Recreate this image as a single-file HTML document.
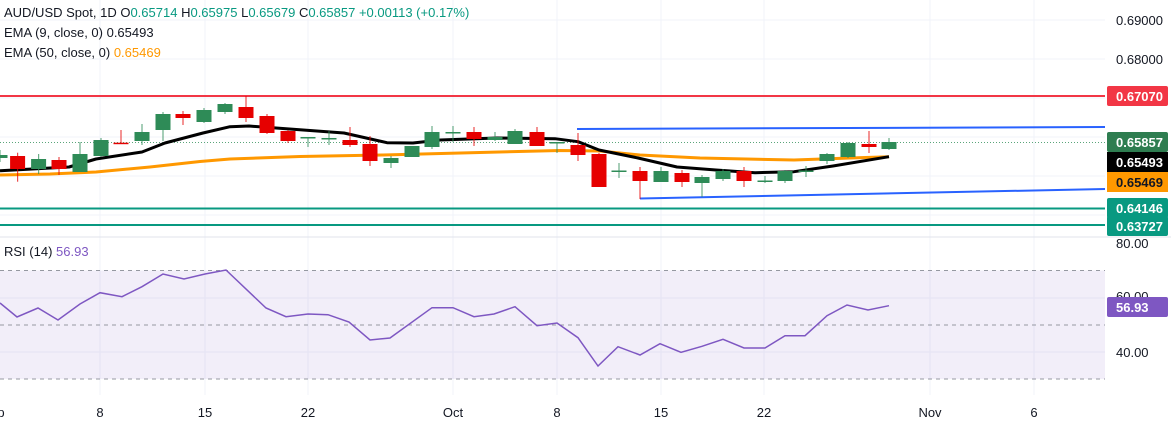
<!DOCTYPE html>
<html><head><meta charset="utf-8"><style>
body{margin:0;background:#fff;width:1171px;height:425px;overflow:hidden;font-family:"Liberation Sans",sans-serif}
svg{position:absolute;left:0;top:0}
</style></head><body>
<svg width="1171" height="425" xmlns="http://www.w3.org/2000/svg" font-family="Liberation Sans, sans-serif">
<g stroke="#f0f3fa" stroke-width="1">
<line x1="0" y1="20" x2="1105" y2="20"/><line x1="0" y1="59" x2="1105" y2="59"/><line x1="0" y1="98" x2="1105" y2="98"/>
<line x1="0" y1="137" x2="1105" y2="137"/><line x1="0" y1="176" x2="1105" y2="176"/><line x1="0" y1="215" x2="1105" y2="215"/>
<line x1="0" y1="298" x2="1105" y2="298"/><line x1="0" y1="352" x2="1105" y2="352"/>
<line x1="100" y1="0" x2="100" y2="395"/><line x1="205" y1="0" x2="205" y2="395"/><line x1="308" y1="0" x2="308" y2="395"/>
<line x1="453" y1="0" x2="453" y2="395"/><line x1="557" y1="0" x2="557" y2="395"/><line x1="661" y1="0" x2="661" y2="395"/>
<line x1="764" y1="0" x2="764" y2="395"/><line x1="930" y1="0" x2="930" y2="395"/><line x1="1034" y1="0" x2="1034" y2="395"/>
</g>
<line x1="0" y1="237" x2="1171" y2="237" stroke="#e0e3eb"/>
<line x1="0" y1="96" x2="1105" y2="96" stroke="#f23645" stroke-width="2"/>
<line x1="0" y1="208.5" x2="1105" y2="208.5" stroke="#089981" stroke-width="2"/>
<line x1="0" y1="225" x2="1105" y2="225" stroke="#089981" stroke-width="2"/>
<line x1="0" y1="142.5" x2="1105" y2="142.5" stroke="#5aa57a" stroke-dasharray="1 2"/>
<line x1="577" y1="129" x2="1105" y2="127" stroke="#2962ff" stroke-width="2"/>
<line x1="640" y1="198.5" x2="1105" y2="189" stroke="#2962ff" stroke-width="2"/>
<polyline fill="none" stroke="#ff9800" stroke-width="3" stroke-linejoin="round" points="0,175 50,174 96,172 150,167 200,161.5 230,159 300,156.5 383,155 480,152.5 560,150.5 600,151 640,155 700,158 794,160 850,158 889,156.7"/>
<polyline fill="none" stroke="#000" stroke-width="3" stroke-linejoin="round" points="0,170.7 69,167 96,159 142,152 165,143 203,133 230,126.7 249,126 276,128 344,133 387,142.7 413,143 440,140 497,138 555,138.7 578,141.7 599,150 638,158 677,167 716,170 755,172.7 794,171.7 833,166 889,156.7"/>
<g id="c"></g>
<rect x="0" y="270.5" width="1105" height="108.5" fill="#7e57c2" fill-opacity="0.1"/>
<g stroke="#9598a1" stroke-dasharray="4 4"><line x1="0" y1="270.5" x2="1105" y2="270.5"/><line x1="0" y1="325" x2="1105" y2="325"/><line x1="0" y1="379" x2="1105" y2="379"/></g>
<polyline fill="none" stroke="#7e57c2" stroke-width="1.5" points="0,303 17,317 38,308 58,320 80,304 100,292.7 122,296.7 142,286.7 163,274 184,279 205,274 226,270 266,308 286,316.7 308,314 328,314.7 349,322 370,340 390,338 432,307.7 453,307.7 474,316.7 494,314 515,306.7 537,325.7 557,323 578,337.7 598,366 618,346.7 640,355 660,343.7 681,352.3 702,346.3 723,339.3 744,348 765,348 785,335.7 805,335.7 827,315.7 847,305 868,310 889,305.7"/>
<g font-size="13" fill="#131722">
<text x="4" y="17">AUD/USD Spot, 1D <tspan>O</tspan><tspan fill="#089981">0.65714</tspan>  <tspan>H</tspan><tspan fill="#089981">0.65975</tspan>  <tspan>L</tspan><tspan fill="#089981">0.65679</tspan>  <tspan>C</tspan><tspan fill="#089981">0.65857  +0.00113 (+0.17%)</tspan></text>
<text x="4" y="37">EMA (9, close, 0)  0.65493</text>
<text x="4" y="57">EMA (50, close, 0)  <tspan fill="#ff9800">0.65469</tspan></text>
<text x="4" y="256">RSI (14)  <tspan fill="#7e57c2">56.93</tspan></text>
</g>
<g font-size="13" fill="#131722">
<text x="1116" y="25">0.69000</text><text x="1116" y="64">0.68000</text>
<text x="1116" y="248">80.00</text><text x="1116" y="301">60.00</text><text x="1116" y="357">40.00</text>
</g>
<g font-size="13" font-weight="bold" fill="#fff">
<rect x="1107" y="86" width="61" height="20" rx="2" fill="#f23645"/><text x="1116" y="101">0.67070</text>
<rect x="1107" y="132" width="61" height="20" rx="2" fill="#2e7d50"/><text x="1116" y="147">0.65857</text>
<rect x="1107" y="152" width="61" height="20" fill="#000"/><text x="1116" y="167">0.65493</text>
<rect x="1107" y="172" width="61" height="20" fill="#ff9800"/><text x="1116" y="187" fill="#131722">0.65469</text>
<rect x="1107" y="198" width="61" height="20" rx="2" fill="#089981"/><text x="1116" y="213">0.64146</text>
<rect x="1107" y="216" width="61" height="20" rx="2" fill="#089981"/><text x="1116" y="231">0.63727</text>
<rect x="1107" y="297" width="61" height="20" rx="2" fill="#7e57c2"/><text x="1116" y="312">56.93</text>
</g>
<g font-size="13" fill="#131722" text-anchor="middle">
<text x="1" y="417">p</text><text x="100" y="417">8</text><text x="205" y="417">15</text><text x="308" y="417">22</text>
<text x="453" y="417">Oct</text><text x="557" y="417">8</text><text x="661" y="417">15</text><text x="764" y="417">22</text>
<text x="930" y="417">Nov</text><text x="1034" y="417">6</text>
</g>
</svg>
<script>
var d=[[0,155,158,150,162,1],[17.6,156,169,152.7,181.7,0],[38.6,159,169,154,174,1],[59,160,169,157,175,0],[80,154,172,142,172,1],[101,140,156,138,157,1],[121,142.7,144,130,144,0],[142,132,141,124,145,1],[163,114,130,112,141,1],[183,114,118,111,125,0],[204,110,122,108,123,1],[225,104,112,103,114,1],[246,107,118,96,122,0],[267,116,133,114,134,0],[288,131,141,130,143,0],[308,137,138,137,147,1],[329,138,139,131,145,1],[350,140,145,127,147,0],[370,144,161,136,166,0],[391,158,163,156,168,1],[412,146,157,146,157,1],[432,132,147,126,149,1],[453,132,133,126,142,1],[474,132,139,127,146,0],[495,137,140,132,141,1],[515,131,144,129,144,1],[537,132,146,127,146,0],[557,142,143,142,153,1],[578,145,155,133,161,0],[599,154,187,153,187,0],[619,170.5,171.5,163,178,1],[640,171,181,167,199,0],[661,171,182,167,182,1],[682,173,182,170,187,0],[702,177,183,175,197,1],[723,171,179,169,181,1],[744,171,181,167,187,0],[765,180.5,181.5,176,183,1],[785,171,181,170,183,1],[806,170.5,171.5,166,177,1],[827,154,161,153,164,1],[848,143,157,142,158,1],[869,144,147,131,153,0],[889,142,149,138,150,1]];
var s='';d.forEach(function(c){var col=c[5]?'#2e8b57':'#e60000';
s+='<line x1="'+c[0]+'" x2="'+c[0]+'" y1="'+c[3]+'" y2="'+c[4]+'" stroke="'+col+'" stroke-opacity="0.7" stroke-width="1.2"/>';
s+='<rect x="'+(c[0]-7.5)+'" y="'+c[1]+'" width="15" height="'+Math.max(1.5,c[2]-c[1])+'" fill="'+col+'"/>';});
document.getElementById('c').innerHTML=s;
</script>
</body></html>
